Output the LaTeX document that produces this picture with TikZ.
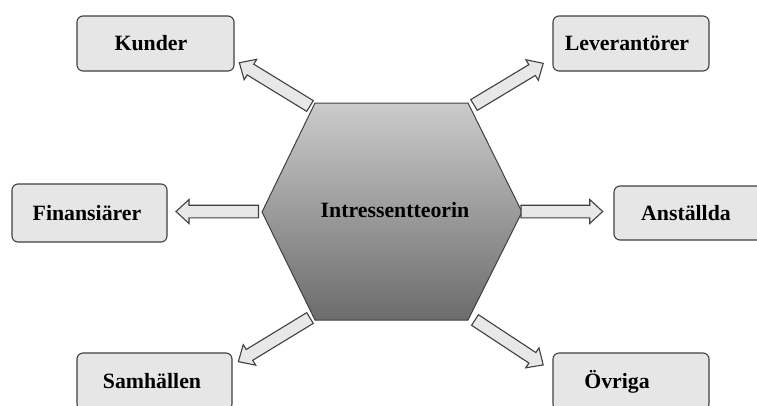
\documentclass[tikz,border=0pt]{standalone}
\usepackage{fontspec}
\setmainfont{Liberation Serif}
\usetikzlibrary{calc}
\definecolor{boxfill}{HTML}{E6E6E6}
\definecolor{edgegray}{HTML}{404040}
\definecolor{arrfill}{HTML}{E8E8E8}
\definecolor{hextop}{HTML}{CBCBCB}
\definecolor{hexbot}{HTML}{6C6C6C}
\tikzset{
  party/.style={draw=edgegray, line width=1.1pt, fill=boxfill, rounded corners=6pt,
    inner sep=0pt, font=\fontsize{21.8}{24}\selectfont\bfseries},
  coretext/.style={font=\fontsize{21.8}{24}\selectfont\bfseries, inner sep=0pt},
  barrow/.style={draw=edgegray, line width=1.1pt, fill=arrfill, line join=miter},
  hexstyle/.style={top color=hextop, bottom color=hexbot, draw=edgegray, line width=1pt}
}
\newcommand\blockarrow[2]{%
  \path[barrow] let \p1=($(#2)-(#1)$), \n1={atan2(\y1,\x1)}, \n2={veclen(\x1,\y1)} in
    [shift={(#1)}, rotate=\n1]
    (0pt,-6.3pt) -- ({\n2-13pt},-6.3pt) -- ({\n2-13pt},-12pt) -- ({\n2-0pt},0pt)
    -- ({\n2-13pt},12pt) -- ({\n2-13pt},6.3pt) -- (0pt,6.3pt) -- cycle;}
\newcommand\shtxt[2]{\hspace*{#1}#2}
\begin{document}
\begin{tikzpicture}[x=1pt,y=-1pt]
\useasboundingbox (0,0) rectangle (757,405);
% hexagon
\coordinate (h1) at (315,103);
\coordinate (h2) at (468,103);
\coordinate (h3) at (522,212);
\coordinate (h4) at (468,320);
\coordinate (h5) at (315,320);
\coordinate (h6) at (262,212);
\shadedraw[hexstyle] (h1) -- (h2) -- (h3) -- (h4) -- (h5) -- (h6) -- cycle;
\node[coretext] (core) at (395,210) {Intressentteorin};
% boxes
\node[party, minimum width=157pt, minimum height=55pt] (kund) at (155.5,43.5) {\shtxt{-9pt}{Kunder}};
\node[party, minimum width=156pt, minimum height=55pt] (lev) at (631,43.5) {\shtxt{-8pt}{Leverantörer}};
\node[party, minimum width=155pt, minimum height=58pt] (fin) at (89.5,213) {\shtxt{-5pt}{Finansiärer}};
\node[party, minimum width=157pt, minimum height=54pt] (anst) at (692.5,213) {\shtxt{-13pt}{Anställda}};
\node[party, minimum width=155pt, minimum height=57pt] (samh) at (154.5,381.5) {\shtxt{-5pt}{Samhällen}};
\node[party, minimum width=156pt, minimum height=57pt] (ovr) at (631,381.5) {\shtxt{-28pt}{Övriga}};
% arrow ends
\coordinate (kT) at (310,106);   \coordinate (kH) at (239.3,62.7);
\coordinate (lT) at (474,105);   \coordinate (lH) at (543.3,63.3);
\coordinate (oT) at (475,320);   \coordinate (oH) at (543.3,365);
\coordinate (sT) at (310,318);   \coordinate (sH) at (238.3,361.7);
\coordinate (aT) at (521,211.5); \coordinate (aH) at (602.7,211.5);
\coordinate (fT) at (258.5,211.5); \coordinate (fH) at (176,211.5);
\blockarrow{kT}{kH}
\blockarrow{lT}{lH}
\blockarrow{oT}{oH}
\blockarrow{sT}{sH}
\blockarrow{aT}{aH}
\blockarrow{fT}{fH}
\end{tikzpicture}
\end{document}
